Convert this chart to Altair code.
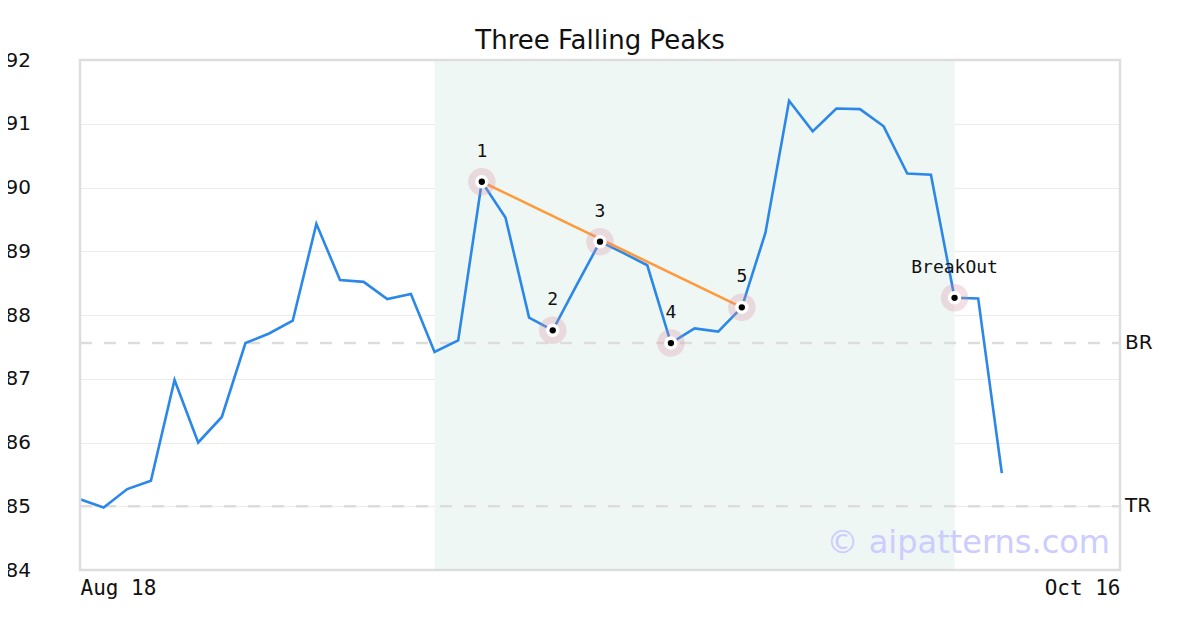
import altair as alt
import pandas as pd

# ---- data ----
idx = list(range(40))
price = [85.11, 84.98, 85.27, 85.40, 86.98, 86.00, 86.40, 87.56, 87.71, 87.91,
         89.43, 88.55, 88.52, 88.25, 88.33, 87.42, 87.60, 90.09, 89.53, 87.96,
         87.76, 88.46, 89.15, 88.97, 88.78, 87.56, 87.79, 87.74, 88.12, 89.29,
         91.36, 90.88, 91.24, 91.23, 90.96, 90.22, 90.20, 88.27, 88.26, 85.52]

pt_idx = [17, 20, 22, 25, 28, 37]
pt_label = ["1", "2", "3", "4", "5", "BreakOut"]
pt_val = [90.09, 87.76, 89.15, 87.56, 88.12, 88.27]

trend_idx = [17, 28]
trend_val = [90.09, 88.12]

shade_start, shade_end = 15, 37
level_names = ["BR", "TR"]
level_vals = [87.56, 85.0]

x_max = 44
x_tick_vals = [0, 44]
x_tick_labels = ["Aug 18", "Oct 16"]

W, H = 1040, 510
MONO = "DejaVu Sans Mono"
SANS = "DejaVu Sans"

price_df = pd.DataFrame({"i": idx, "v": price})
pts_df = pd.DataFrame({"i": pt_idx, "v": pt_val, "lab": pt_label})
trend_df = pd.DataFrame({"i": trend_idx, "v": trend_val})
shade_df = pd.DataFrame({"a": [shade_start], "b": [shade_end]})
lvl_df = pd.DataFrame({"name": level_names, "v": level_vals, "x0": [0, 0], "x1": [x_max, x_max]})

label_expr = " : ".join(
    [f"datum.value == {v} ? '{l}'" for v, l in zip(x_tick_vals, x_tick_labels)]
) + " : ''"

xs = alt.Scale(domain=[0, x_max], nice=False, zero=False)
ys = alt.Scale(domain=[84, 92], nice=False, zero=False)

x_axis = alt.Axis(values=x_tick_vals, labelExpr=label_expr, labelFlush=True,
                  grid=False, ticks=False, domain=False, labelFont=MONO,
                  labelFontSize=21, labelColor="#111", labelPadding=7, title=None)
y_axis = alt.Axis(values=list(range(84, 93)), format="d", grid=True,
                  gridColor="#ebebeb", gridWidth=1, ticks=False, domain=False,
                  labelFont=SANS, labelFontSize=20, labelColor="#111",
                  labelAlign="left", labelPadding=75, title=None)

base_x = alt.X("i:Q", scale=xs, axis=x_axis)
base_y = alt.Y("v:Q", scale=ys, axis=y_axis)

shade = alt.Chart(shade_df).mark_rect(color="#eff7f4").encode(
    x=alt.X("a:Q", scale=xs, axis=x_axis), x2="b:Q",
    y=alt.value(0), y2=alt.value(H))

levels = alt.Chart(lvl_df).mark_rule(color="#dddddd", strokeWidth=2.5,
                                     strokeDash=[12, 12]).encode(
    x=alt.X("x0:Q", scale=xs), x2="x1:Q", y=alt.Y("v:Q", scale=ys))

level_text = alt.Chart(lvl_df).mark_text(align="left", baseline="middle", dx=5,
                                         font=SANS, fontSize=20, color="#111").encode(
    x=alt.X("x1:Q", scale=xs), y=alt.Y("v:Q", scale=ys), text="name:N")

line = alt.Chart(price_df).mark_line(color="#2b87e8", strokeWidth=2.6).encode(
    x=base_x, y=base_y)

trend = alt.Chart(trend_df).mark_line(color="#ff9a3c", strokeWidth=2.6).encode(
    x=alt.X("i:Q", scale=xs), y=alt.Y("v:Q", scale=ys))

halo = alt.Chart(pts_df).mark_circle(size=760, color="#d98ca3", opacity=0.28).encode(
    x=alt.X("i:Q", scale=xs), y=alt.Y("v:Q", scale=ys))
ring = alt.Chart(pts_df).mark_circle(size=180, color="#ffffff", opacity=1).encode(
    x=alt.X("i:Q", scale=xs), y=alt.Y("v:Q", scale=ys))
dot = alt.Chart(pts_df).mark_circle(size=40, color="#000000", opacity=1).encode(
    x=alt.X("i:Q", scale=xs), y=alt.Y("v:Q", scale=ys))

labels = alt.Chart(pts_df).mark_text(dy=-25, baseline="alphabetic", align="center",
                                     font=MONO, fontSize=18, color="#111").encode(
    x=alt.X("i:Q", scale=xs), y=alt.Y("v:Q", scale=ys), text="lab:N")

watermark = alt.Chart(pd.DataFrame({"t": ["© aipatterns.com"]})).mark_text(
    align="right", baseline="alphabetic", font=SANS, fontSize=32,
    color="#ccccff").encode(x=alt.value(W - 10), y=alt.value(H - 17), text="t:N")

border = alt.Chart(shade_df).mark_rect(fill=None, stroke="#dddddd", strokeWidth=2.5).encode(
    x=alt.value(0), x2=alt.value(W), y=alt.value(0), y2=alt.value(H))

chart = alt.layer(shade, levels, level_text, line, trend, halo, ring, dot,
                  labels, watermark, border).properties(
    width=W, height=H,
    title=alt.TitleParams("Three Falling Peaks", font=SANS, fontSize=26,
                          fontWeight="normal", color="#111", anchor="middle",
                          frame="group", offset=-4),
    autosize=alt.AutoSizeParams(type="none"),
    padding={"left": 72, "top": 52, "right": 72, "bottom": 50},
).configure_view(stroke=None).configure(background="white")

chart.save("out.html", embed_options={"renderer": "svg", "actions": False})
